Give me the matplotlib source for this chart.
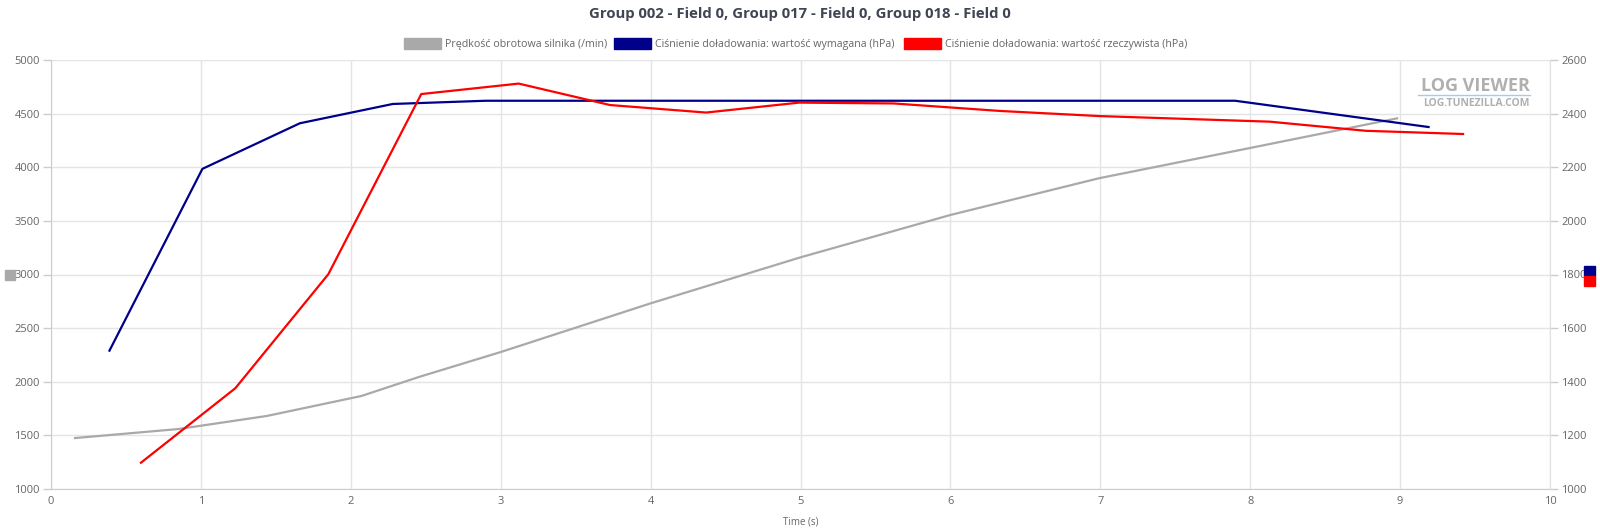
import numpy as np
import matplotlib.pyplot as plt
from matplotlib.patches import Rectangle

plt.rcParams['font.family'] = ['Open Sans', 'DejaVu Sans']

# engine speed (left axis)
rpm_t = [0.16, 0.85, 1.44, 2.07, 2.46, 3.0, 4.0, 5.0, 6.0, 6.99, 7.99, 8.98]
rpm_v = [1475, 1559, 1681, 1867, 2047, 2277, 2731, 3160, 3555, 3897, 4177, 4456]

# boost pressure, requested (right axis)
req_t = [0.39, 1.01, 1.66, 2.28, 2.9, 7.9, 9.19]
req_v = [1516, 2194, 2364, 2436, 2448, 2448, 2350]

# boost pressure, actual (right axis)
act_t = [0.60, 1.23, 1.85, 2.47, 3.12, 3.73, 4.37, 4.99, 5.62, 6.33, 6.99, 8.13, 8.77, 9.42]
act_v = [1098, 1376, 1801, 2473, 2512, 2432, 2404, 2441, 2438, 2410, 2391, 2370, 2336, 2324]

labels = ["Prędkość obrotowa silnika (/min)",
          "Ciśnienie doładowania: wartość wymagana (hPa)",
          "Ciśnienie doładowania: wartość rzeczywista (hPa)"]
colors = ['#a9a9a9', '#00008b', '#ff0000']

fig = plt.figure(figsize=(16, 5.3), dpi=100)
ax = fig.add_axes([51/1600, 1 - 489/530, 1499/1600, 429/530])
ax2 = ax.twinx()

ax.plot(rpm_t, rpm_v, color=colors[0], lw=1.6, zorder=3)
ax2.plot(req_t, req_v, color=colors[1], lw=1.6, zorder=3)
ax2.plot(act_t, act_v, color=colors[2], lw=1.6, zorder=3)

ax.set_xlim(0, 10)
ax.set_ylim(1000, 5000)
ax2.set_ylim(1000, 2600)
ax.set_xticks(range(11))
ax.set_yticks(range(1000, 5001, 500))
ax2.set_yticks(range(1000, 2601, 200))

ax.grid(True, color='#e4e4e4', lw=1)
ax.set_axisbelow(True)
for a in (ax, ax2):
    for s in a.spines.values():
        s.set_visible(False)
    a.tick_params(colors='#cccccc', labelcolor='#666666', labelsize=8, length=6, width=1)
ax.spines['left'].set_visible(True)
ax.spines['left'].set_color('#cccccc')
ax.spines['bottom'].set_visible(True)
ax.spines['bottom'].set_color('#cccccc')
ax2.spines['right'].set_visible(True)
ax2.spines['right'].set_color('#e0e0e0')
ax.tick_params(axis='x', length=0, pad=5)
ax.tick_params(axis='y', pad=2)
ax2.tick_params(axis='y', pad=2)

ax.set_xlabel("Time (s)", color='#666666', fontsize=7, labelpad=7)

fig.text(0.5, 1 - 14/530, "Group 002 - Field 0, Group 017 - Field 0, Group 018 - Field 0",
         ha='center', va='center', fontsize=10.7, fontweight='bold', color='#3f4552')

# legend row
leg_x = [404, 614, 904]
for x0, lab, c in zip(leg_x, labels, colors):
    fig.patches.append(Rectangle((x0/1600, 1 - 49/530), 37/1600, 11/530,
                                 transform=fig.transFigure, color=c))
    fig.text((x0 + 41)/1600, 1 - 44/530, lab, ha='left', va='center',
             fontsize=7.65, color='#666666')

# axis colour markers
fig.patches.append(Rectangle((5/1600, 1 - 280/530), 10/1600, 10/530,
                             transform=fig.transFigure, color=colors[0]))
fig.patches.append(Rectangle((1584/1600, 1 - 276/530), 11/1600, 10/530,
                             transform=fig.transFigure, color=colors[1]))
fig.patches.append(Rectangle((1584/1600, 1 - 286/530), 11/1600, 10/530,
                             transform=fig.transFigure, color=colors[2]))

# watermark
fig.text(1530/1600, 1 - 86/530, "LOG VIEWER", ha='right', va='center',
         fontsize=13, fontweight='bold', color='#b0b0b0')
fig.text(1530/1600, 1 - 103/530, "LOG.TUNEZILLA.COM", ha='right', va='center',
         fontsize=7.5, fontweight='bold', color='#b0b0b0')
fig.add_artist(plt.Line2D([1418/1600, 1530/1600], [1 - 95/530, 1 - 95/530],
                          color='#a8cce8', lw=1))

fig.savefig('out.png', dpi=100, facecolor='white')
